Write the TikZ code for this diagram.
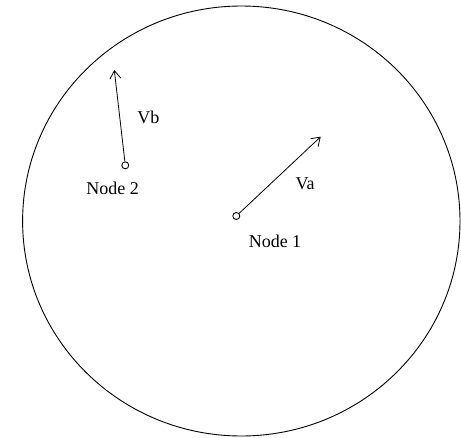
\documentclass[tikz,border=0pt]{standalone}
\usepackage{fontspec}
\setmainfont{Liberation Serif}
\usetikzlibrary{arrows.meta,positioning}
\tikzset{
  dot/.style  ={circle,draw,inner sep=0pt,minimum size=7pt,line width=0.9pt},
  lbl/.style  ={font=\fontsize{18}{21}\selectfont,inner sep=0pt},
  vec/.style  ={-{Straight Barb[length=8pt,width=11pt]},line width=0.8pt},
  rim/.style  ={line width=0.9pt}
}
\begin{document}
\begin{tikzpicture}[x=1pt,y=-1pt]
  \useasboundingbox (0,0) rectangle (461,437);
  % Boundary
  \draw [rim] (241.3,221) ellipse [x radius=218.7pt, y radius=215pt];

  % Nodes
  \node (n1)  [dot] at (236.3,216) {};
  \node (n2)  [dot] at (125.3,165.3) {};
  \coordinate (va) at (320.7,136.7);
  \coordinate (vb) at (114.3,70);
  \node (n1lbl) [lbl] at (275,241)   {Node 1};
  \node (n2lbl) [lbl] at (112.7,188.5) {Node 2};

  % Vectors
  \draw [vec] (n1) -- (va);
  \draw [vec] (n2) -- (vb);
  \node (valbl) [lbl] at (305,184)   {Va};
  \node (vblbl) [lbl] at (148.3,117.5) {Vb};
\end{tikzpicture}
\end{document}
